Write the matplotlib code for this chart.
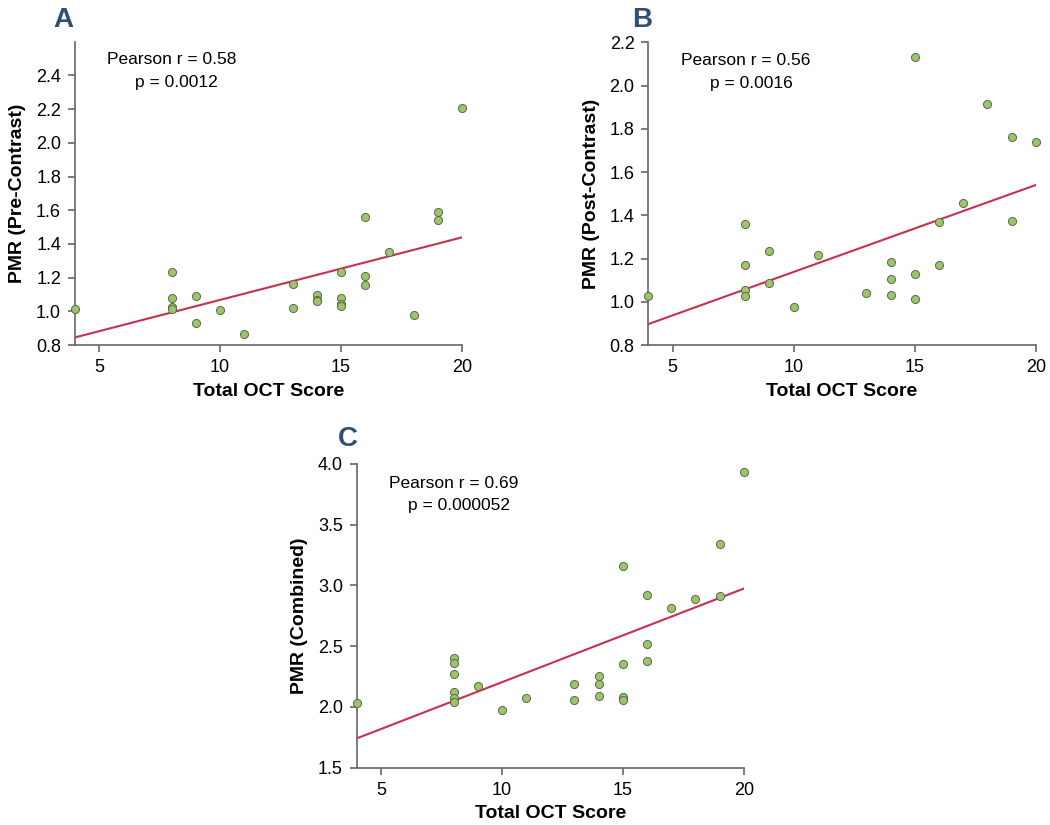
import numpy as np
import matplotlib
matplotlib.use("Agg")
import matplotlib.pyplot as plt

plt.rcParams['font.family'] = ['Liberation Sans', 'DejaVu Sans']

# panel A: pre-contrast
oct_a = np.array([4, 8, 8, 8, 8, 9, 9, 10, 11, 13, 13, 14, 14, 14, 15, 15, 15, 15,
                  16, 16, 16, 17, 18, 19, 19, 20])
pmr_a = np.array([1.016, 1.231, 1.081, 1.027, 1.012, 1.091, 0.929, 1.008, 0.867, 1.16, 1.022,
                  1.095, 1.07, 1.062, 1.233, 1.077, 1.043, 1.033, 1.558, 1.211, 1.156, 1.35,
                  0.98, 1.591, 1.54, 2.208])

# panel B: post-contrast
oct_b = np.array([4, 8, 8, 8, 8, 9, 9, 10, 11, 13, 14, 14, 14, 15, 15, 15,
                  16, 16, 17, 18, 19, 19, 20])
pmr_b = np.array([1.028, 1.361, 1.172, 1.054, 1.027, 1.233, 1.087, 0.976, 1.215, 1.039,
                  1.182, 1.104, 1.033, 2.131, 1.127, 1.011, 1.369, 1.17, 1.458, 1.913,
                  1.761, 1.375, 1.738])

# panel C: combined
oct_c = np.array([4, 8, 8, 8, 8, 8, 8, 9, 10, 11, 13, 13, 14, 14, 14, 15, 15, 15, 15,
                  16, 16, 16, 17, 18, 19, 19, 20])
pmr_c = np.array([2.035, 2.400, 2.364, 2.271, 2.126, 2.074, 2.041, 2.170, 1.977, 2.074,
                  2.189, 2.060, 2.255, 2.189, 2.087, 3.160, 2.356, 2.085, 2.060, 2.919,
                  2.521, 2.381, 2.814, 2.889, 3.344, 2.911, 3.931])

# regression line end values (x = 4 and x = 20)
fit_x = [4, 20]
fit_a = [0.845, 1.439]
fit_b = [0.897, 1.540]
fit_c = [1.741, 2.974]

panels = [
    dict(x=oct_a, y=pmr_a, fit=fit_a, letter='A', ylabel='PMR (Pre-Contrast)',
         ylim=(0.8, 2.6), yticks=np.arange(0.8, 2.41, 0.2), fmt='{:.1f}',
         r='Pearson r = 0.58', p='p = 0.0012',
         pos=[0.0714, 0.5818, 0.3686, 0.3676], txt=(0.083, 0.94, 0.155, 0.864),
         lab=(0.0505, 0.9673)),
    dict(x=oct_b, y=pmr_b, fit=fit_b, letter='B', ylabel='PMR (Post-Contrast)',
         ylim=(0.8, 2.2), yticks=np.arange(0.8, 2.21, 0.2), fmt='{:.1f}',
         r='Pearson r = 0.56', p='p = 0.0016',
         pos=[0.6176, 0.5818, 0.3688, 0.3669], txt=(0.084, 0.94, 0.159, 0.864),
         lab=(0.6016, 0.9673)),
    dict(x=oct_c, y=pmr_c, fit=fit_c, letter='C', ylabel='PMR (Combined)',
         ylim=(1.5, 4.0), yticks=np.arange(1.5, 4.01, 0.5), fmt='{:.1f}',
         r='Pearson r = 0.69', p='p = 0.000052',
         pos=[0.3398, 0.0695, 0.3685, 0.3681], txt=(0.083, 0.936, 0.133, 0.863),
         lab=(0.3219, 0.4594)),
]

fig = plt.figure(figsize=(10.5, 8.25), dpi=100)
axis_col = '#666666'

for p in panels:
    ax = fig.add_axes(p['pos'])
    ax.plot(fit_x, p['fit'], color='#c8304f', lw=1.5, zorder=2)
    ax.scatter(p['x'], p['y'], s=34, color='#9dc46a', edgecolor='#5a6a4a',
               linewidth=0.7, zorder=3, clip_on=False)
    ax.set_xlim(4, 20)
    ax.set_ylim(*p['ylim'])
    ax.set_xticks([5, 10, 15, 20])
    ax.set_yticks(p['yticks'])
    ax.set_yticklabels([p['fmt'].format(v) for v in p['yticks']])
    for s in ['top', 'right']:
        ax.spines[s].set_visible(False)
    for s in ['left', 'bottom']:
        ax.spines[s].set_color(axis_col)
        ax.spines[s].set_linewidth(1.2)
    ax.tick_params(direction='out', length=5, width=1.2, color=axis_col,
                   labelsize=13, pad=5)
    ax.set_xlabel('Total OCT Score', fontsize=14, fontweight='bold', labelpad=5)
    ax.set_ylabel(p['ylabel'], fontsize=14, fontweight='bold', labelpad=7)
    tx = p['txt']
    ax.text(tx[0], tx[1], p['r'], transform=ax.transAxes, fontsize=12.5, va='center', ha='left')
    ax.text(tx[2], tx[3], p['p'], transform=ax.transAxes, fontsize=12.5, va='center', ha='left')
    fig.text(p['lab'][0], p['lab'][1], p['letter'], fontsize=20, fontweight='bold',
             color='#2f4f72', va='baseline', ha='left')

fig.savefig('out.png', dpi=100)
